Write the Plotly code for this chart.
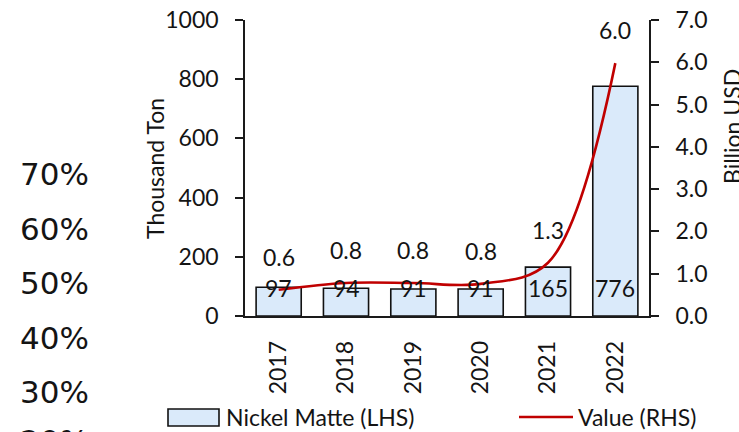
import plotly.graph_objects as go

# ---- data ----
years = ["2017", "2018", "2019", "2020", "2021", "2022"]
nickel_matte = [97, 94, 91, 91, 165, 776]          # thousand ton (LHS)
value_busd = [0.62, 0.78, 0.78, 0.76, 1.26, 5.98]  # billion USD (RHS)
left_ticks = [0, 200, 400, 600, 800, 1000]
right_ticks = [0, 1, 2, 3, 4, 5, 6, 7]
stray_pct = ["70%", "60%", "50%", "40%", "30%", "20%"]

# ---- layout geometry ----
W, H = 739, 432
L, R, T, B = 245, 90, 20, 116
PW, PH = W - L - R, H - T - B


def px_x(px):
    return (px - L) / PW


def px_y(py):
    return (H - B - py) / PH


FONT = "Lato, Noto Sans, sans-serif"
TXT = "#141414"
AX = "#1a1a1a"
FS = 23

fig = go.Figure()
fig.add_trace(go.Bar(
    x=years, y=nickel_matte, name="Nickel Matte (LHS)",
    marker=dict(color="#DAEAFA", line=dict(color="#111111", width=1.6)),
    showlegend=False, yaxis="y",
))
fig.add_trace(go.Scatter(
    x=years, y=value_busd, name="Value (RHS)", mode="lines",
    line=dict(color="#C00000", width=2.6, shape="spline", smoothing=1.0),
    showlegend=False, yaxis="y2",
))

ann = []
# bar labels (inside base)
for i, v in enumerate(nickel_matte):
    ann.append(dict(x=i, y=0, xref="x", yref="y", text=str(v), showarrow=False,
                    xanchor="center", yanchor="middle",
                    yshift=28, font=dict(family=FONT, size=FS, color=TXT)))
# line labels (above)
for i, v in enumerate(value_busd):
    ann.append(dict(x=i, y=v, xref="x", yref="y2", text=f"{v:.1f}", showarrow=False,
                    xanchor="center", yanchor="middle",
                    yshift=33, font=dict(family=FONT, size=FS, color=TXT)))


def paper_text(px, py, text, size=FS, angle=0, xanchor="center", family=FONT):
    return dict(x=px_x(px), y=px_y(py), xref="paper", yref="paper", text=text,
                textangle=angle, showarrow=False, xanchor=xanchor, yanchor="middle",
                font=dict(family=family, size=size, color=TXT))


# axis titles
ann.append(paper_text(155, 169, "Thousand Ton", angle=-90))
ann.append(paper_text(732, 127, "Billion USD", angle=-90))
# stray percentage labels on the left edge (last one cut by the bottom edge)
stray_y = [174, 228.5, 283, 337.5, 392, 441]
for s, py in zip(stray_pct, stray_y):
    ann.append(paper_text(54, py, s, size=31, family="DejaVu Sans, sans-serif"))
# legend texts
ann.append(paper_text(224, 417, "Nickel Matte (LHS)", xanchor="left"))
ann.append(paper_text(576, 417, "Value (RHS)", xanchor="left"))

shapes = [
    dict(type="rect", xref="paper", yref="paper", x0=px_x(168), x1=px_x(219),
         y0=px_y(409), y1=px_y(426), fillcolor="#DAEAFA", line=dict(color="#111111", width=1.6)),
    dict(type="line", xref="paper", yref="paper", x0=px_x(519), x1=px_x(573),
         y0=px_y(417), y1=px_y(417), line=dict(color="#C00000", width=2.6)),
]

fig.update_layout(
    width=W, height=H,
    margin=dict(l=L, r=R, t=T, b=B, pad=0, autoexpand=False),
    paper_bgcolor="white", plot_bgcolor="white",
    bargap=0.33,
    showlegend=False,
    annotations=ann, shapes=shapes,
    font=dict(family=FONT, size=FS, color=TXT),
    xaxis=dict(type="category", range=[-0.5, len(years) - 0.5], tickangle=-90,
               showline=True, linecolor=AX, linewidth=1.6, automargin=False,
               ticks="", showgrid=False, tickfont=dict(family=FONT, size=FS, color=TXT),
               ticklabelstandoff=14),
    yaxis=dict(range=[0, 1000], tickvals=left_ticks, ticks="outside", ticklen=8,
               tickcolor=AX, tickwidth=1.6, showline=True, linecolor=AX, linewidth=1.6,
               showgrid=False, zeroline=False, automargin=False,
               tickfont=dict(family=FONT, size=FS, color=TXT), ticklabelstandoff=12),
    yaxis2=dict(range=[0, 7], tickvals=right_ticks, tickformat=".1f", overlaying="y",
                side="right", ticks="outside", ticklen=8, tickcolor=AX, tickwidth=1.6,
                showline=True, linecolor=AX, linewidth=1.6, showgrid=False, zeroline=False,
                automargin=False,
                tickfont=dict(family=FONT, size=FS, color=TXT), ticklabelstandoff=12),
)

fig.write_html("out.html")
